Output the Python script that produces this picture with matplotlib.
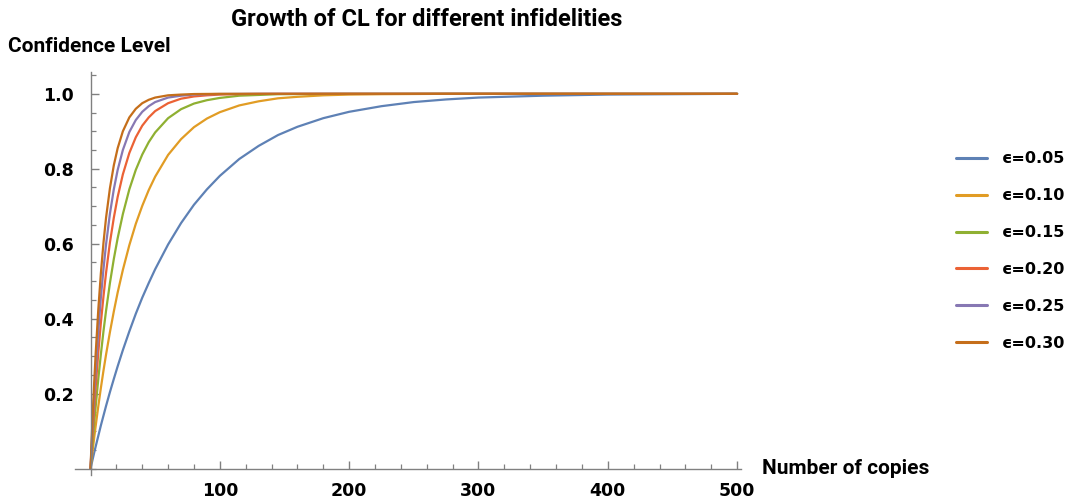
import matplotlib.pyplot as plt
from matplotlib.ticker import MultipleLocator

n_copies = [0, 1, 2, 3, 4, 6, 8, 10, 12, 15, 18, 21, 25, 30, 35, 40, 45, 50, 60, 70, 80, 90, 100,
            115, 130, 145, 160, 180, 200, 225, 250, 275, 300, 350, 400, 450, 500]

cl_005 = [0, 0.015, 0.030, 0.045, 0.059, 0.087, 0.115, 0.141, 0.167, 0.204, 0.239, 0.273, 0.316, 0.366,
          0.413, 0.456, 0.495, 0.532, 0.598, 0.655, 0.704, 0.745, 0.781, 0.826, 0.861, 0.890, 0.912,
          0.935, 0.952, 0.967, 0.978, 0.985, 0.990, 0.995, 0.998, 0.999, 1.0]
cl_010 = [0, 0.030, 0.059, 0.087, 0.114, 0.166, 0.215, 0.261, 0.304, 0.364, 0.419, 0.470, 0.530, 0.596,
          0.653, 0.701, 0.743, 0.779, 0.837, 0.879, 0.911, 0.934, 0.951, 0.969, 0.980, 0.988, 0.992,
          0.996, 0.998, 0.999, 0.9995, 1.0, 1.0, 1.0, 1.0, 1.0, 1.0]
cl_015 = [0, 0.045, 0.087, 0.128, 0.166, 0.239, 0.305, 0.366, 0.421, 0.495, 0.559, 0.615, 0.679, 0.745,
          0.797, 0.838, 0.871, 0.897, 0.935, 0.959, 0.974, 0.983, 0.989, 0.995, 0.997, 0.999, 0.9993,
          0.9997, 1.0, 1.0, 1.0, 1.0, 1.0, 1.0, 1.0, 1.0, 1.0]
cl_020 = [0, 0.060, 0.116, 0.169, 0.218, 0.309, 0.389, 0.459, 0.522, 0.603, 0.669, 0.725, 0.785, 0.842,
          0.884, 0.915, 0.937, 0.954, 0.975, 0.987, 0.993, 0.996, 0.998, 0.9992, 0.9997, 1.0, 1.0,
          1.0, 1.0, 1.0, 1.0, 1.0, 1.0, 1.0, 1.0, 1.0, 1.0]
cl_025 = [0, 0.073, 0.141, 0.204, 0.262, 0.366, 0.456, 0.532, 0.598, 0.680, 0.745, 0.797, 0.850, 0.898,
          0.930, 0.952, 0.967, 0.978, 0.990, 0.995, 0.998, 0.999, 0.9995, 0.9998, 1.0, 1.0, 1.0,
          1.0, 1.0, 1.0, 1.0, 1.0, 1.0, 1.0, 1.0, 1.0, 1.0]
cl_030 = [0, 0.088, 0.168, 0.241, 0.308, 0.424, 0.521, 0.602, 0.669, 0.748, 0.809, 0.855, 0.900, 0.937,
          0.960, 0.975, 0.984, 0.990, 0.996, 0.998, 0.9994, 0.9997, 1.0, 1.0, 1.0, 1.0, 1.0,
          1.0, 1.0, 1.0, 1.0, 1.0, 1.0, 1.0, 1.0, 1.0, 1.0]

series = [cl_005, cl_010, cl_015, cl_020, cl_025, cl_030]
labels = ["ϵ=0.05", "ϵ=0.10", "ϵ=0.15", "ϵ=0.20", "ϵ=0.25", "ϵ=0.30"]
colors = ["#5E81B5", "#E19C24", "#8FB032", "#EB6235", "#8778B3", "#C56E1A"]

axis_gray = "#808080"
label_font = ["Roboto", "DejaVu Sans"]

fig = plt.figure(figsize=(10.7, 4.99), dpi=100)
ax = fig.add_axes([0.0701, 0.0475, 0.6224, 0.8088])

for ys, lab, col in zip(series, labels, colors):
    ax.plot(n_copies, ys, color=col, linewidth=1.6, label=lab, solid_capstyle="round")

ax.set_xlim(-12, 503)
ax.set_ylim(-0.018, 1.059)

# axes cross at the origin, Mathematica style
for side in ["top", "right"]:
    ax.spines[side].set_visible(False)
ax.spines["left"].set_position(("data", 0))
ax.spines["bottom"].set_position(("data", 0))
for side in ["left", "bottom"]:
    ax.spines[side].set_color(axis_gray)
    ax.spines[side].set_linewidth(1.0)

ax.set_xticks([100, 200, 300, 400, 500])
ax.xaxis.set_minor_locator(MultipleLocator(20))
ax.set_yticks([0.2, 0.4, 0.6, 0.8, 1.0])
ax.set_yticklabels(["0.2", "0.4", "0.6", "0.8", "1.0"])
ax.yaxis.set_minor_locator(MultipleLocator(0.05))

ax.tick_params(axis="both", which="major", direction="in", length=6, width=1.0, color=axis_gray,
               labelsize=12.5, labelcolor="black")
ax.tick_params(axis="both", which="minor", direction="in", length=3.5, width=0.9, color=axis_gray)
ax.tick_params(axis="x", which="major", pad=9.5)
ax.tick_params(axis="y", which="major", pad=12)
for t in ax.get_xticklabels() + ax.get_yticklabels():
    t.set_fontweight("bold")

fig.text(427 / 1070, 1 - 19 / 499, "Growth of CL for different infidelities", ha="center", va="center",
         fontsize=17, fontweight="bold", family=label_font)
fig.text(8 / 1070, 1 - 47 / 499, "Confidence Level", ha="left", va="center",
         fontsize=15, fontweight="bold", family=label_font)
fig.text(762 / 1070, 1 - 468 / 499, "Number of copies", ha="left", va="center",
         fontsize=15, fontweight="bold", family=label_font)

leg = fig.legend(loc="upper left", bbox_to_anchor=(942 / 1070, 1 - 137 / 499), frameon=False,
                 handlelength=1.9, handletextpad=0.95, labelspacing=1.37,
                 prop={"size": 11.5, "weight": "bold"})
for line in leg.get_lines():
    line.set_linewidth(2.2)

plt.savefig("out.png", dpi=100)
